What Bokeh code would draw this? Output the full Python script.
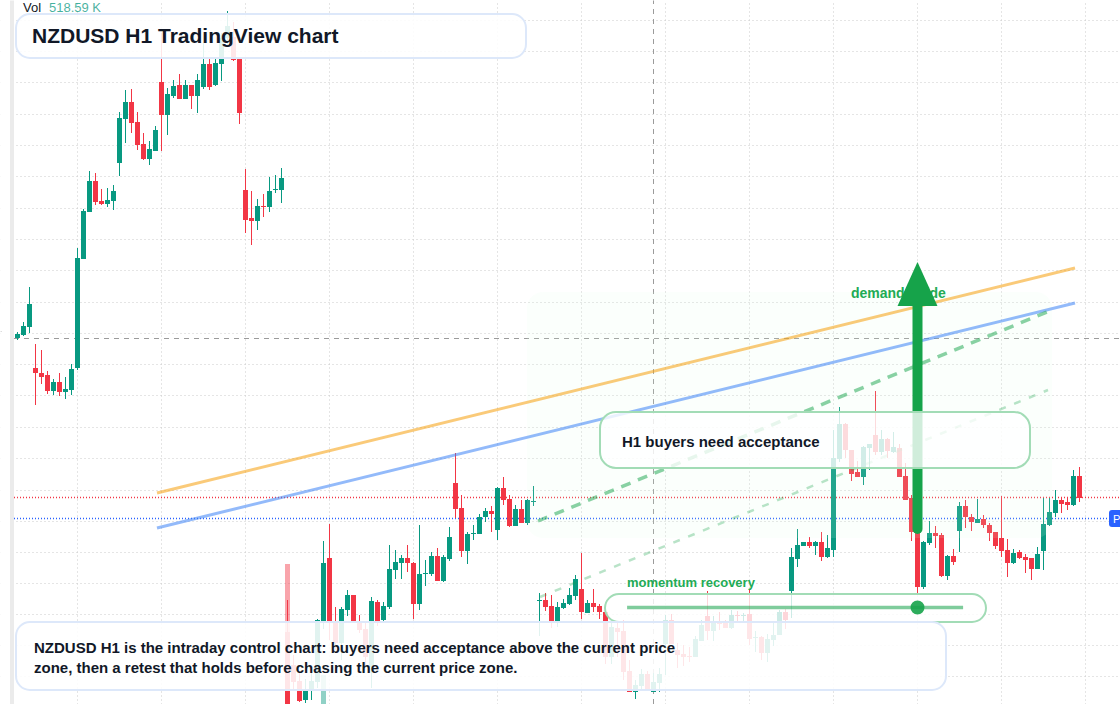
from bokeh.embed import file_html
from bokeh.models import BoxAnnotation, ColumnDataSource, FixedTicker, Grid, Label, Range1d
from bokeh.plotting import figure
from bokeh.resources import INLINE

# Candles, values in points above the base of the visible price window
highs = [372,382,417,360,354,333,325,331,327,340,456,495,533,531,515,516,519,592,614,615,592,571,563,578,671,616,624,630,624,619,630,661,646,647,671,693,682,646,535,513,505,510,527,529,536,
 104,49,32,25,32,85,163,180,97,97,114,109,89,82,107,104,102,159,154,149,159,142,179,144,152,156,149,177,251,209,172,179,190,196,198,217,227,209,199,204,205,218,
 111,111,109,102,105,116,129,151,104,115,100,92,83,83,84,44,24,35,33,31,36,89,90,61,59,57,68,84,113,88,92,84,94,93,91,114,73,68,70,81,94,95,
 156,175,162,167,163,172,169,274,297,281,254,243,258,260,313,274,266,272,260,241,209,207,163,183,178,171,149,155,202,204,190,205,189,181,172,208,165,155,154,150,146,157,206,206,214,207,206,234,237]
lows = [364,368,371,299,320,310,309,308,305,309,334,445,492,499,499,497,494,528,561,571,554,544,539,553,553,569,606,605,605,595,591,615,614,618,623,659,643,580,471,459,474,487,492,511,501,
 -26,14,2,1,4,16,75,64,54,44,88,82,71,38,16,78,82,95,125,125,132,85,94,118,128,123,122,143,186,147,140,164,170,182,172,164,199,177,178,181,179,198,
 68,93,76,77,95,99,104,85,91,92,85,40,40,47,24,12,5,14,13,12,12,29,60,36,38,42,47,63,64,63,74,76,75,82,82,59,52,44,42,58,69,75,
 86,137,158,156,149,143,146,147,242,246,223,227,219,234,249,249,246,251,227,204,163,109,115,159,156,127,124,139,152,176,173,181,176,163,155,147,127,140,145,131,124,135,134,178,187,191,194,198,202]
opens = [366,369,377,336,331,329,313,322,312,314,336,445,492,523,503,500,503,541,585,602,582,560,545,553,622,589,608,619,605,619,608,617,640,619,640,666,667,646,514,486,483,498,497,514,514,
 72,39,23,4,14,22,83,146,83,61,94,109,83,75,37,102,84,97,134,141,146,141,100,130,130,148,123,145,221,196,153,170,170,187,193,174,216,205,178,195,181,202,
 103,104,98,82,96,100,108,115,91,101,98,92,47,76,73,33,12,18,30,12,21,60,84,54,50,48,47,63,88,73,82,81,76,89,88,90,66,67,51,64,69,92,
 113,145,158,162,158,162,147,154,245,280,254,232,227,256,269,252,265,252,256,228,206,172,117,161,171,169,128,148,173,198,187,181,185,179,172,166,154,141,152,147,146,135,153,179,191,204,202,199,228]
closes = [370,378,400,331,327,313,322,312,315,335,446,493,523,502,500,504,513,586,602,581,559,545,555,574,589,610,618,605,619,608,624,640,617,641,666,678,644,591,484,483,498,497,513,515,526,
 -16,22,3,14,23,84,141,83,61,95,109,82,74,47,103,83,98,135,142,146,141,100,130,131,148,123,147,167,195,153,170,171,187,193,190,216,204,178,195,181,204,203,
 104,97,82,97,101,109,125,92,101,97,92,47,77,72,32,12,19,30,13,22,30,84,60,49,47,47,65,79,73,83,80,76,89,88,89,65,67,51,65,69,92,84,
 147,159,162,158,162,147,156,246,280,254,230,227,257,260,252,265,253,257,227,204,172,117,162,171,168,128,148,142,198,187,182,185,179,171,158,153,141,151,146,144,135,150,180,192,204,200,199,228,206]

volume_index = [45, 51]
volume_top = [140, 29]

price_levels = [683.5,652.5,621.5,589.5,558.5,527.5,495.5,464.5,433.5,401.5,370.5,339.5,308.5,276.5,245.5,213.5,182.5,151.5,120.5,89.5,58.5,27.5]
time_ticks = [10,24,38,52,66,80,94,108,122,136,150,164,178]

last_price_level = 206.5
prev_price_level = 185.5
cross_level = 365.5
cross_index = 106

resistance_x = [23.25, 176.25]
resistance_y = [211, 436]
support_x = [23.25, 176.25]
support_y = [176, 401]
path_a_x = [86.75, 171.58]
path_a_y = [183, 392]
path_b_x = [87.08, 171.75]
path_b_y = [107, 314]
momentum_x = [101.6, 157.6]
momentum_y = [96.5, 96.5]
momentum_dot_x = [150]
momentum_dot_y = [96.5]
arrow_x = [150, 150]
arrow_y = [175, 398]
arrow_head_x = [146.67, 150, 153.33]
arrow_head_y = [398, 442, 398]

title_text = "NZDUSD H1 TradingView chart"
body_lines = ["NZDUSD H1 is the intraday control chart: buyers need acceptance above the current price",
              "zone, then a retest that holds before chasing the current price zone."]
card_text = "H1 buyers need acceptance"
momentum_text = "momentum recovery"
demand_text = "demand guide"
vol_name = "Vol"
vol_value = "518.59 K"
price_tag = "P"

GREEN, RED = "#089981", "#f23645"
FONT = "Liberation Sans"
H = 704

p = figure(width=1120, height=H, output_backend="svg", toolbar_location=None,
           x_range=Range1d(-17 / 6, (1120 - 17) / 6), y_range=Range1d(-0.5, H - 0.5),
           min_border=0, outline_line_color=None, background_fill_color="white",
           x_axis_location=None, y_axis_location=None)
p.grid.visible = False

x0 = (13.5 - 17) / 6
x1 = (1120 - 17) / 6

p.add_layout(Grid(dimension=0, ticker=FixedTicker(ticks=time_ticks), grid_line_color="#cbcbcb",
                  grid_line_dash="1 3", grid_line_width=1))
p.add_layout(Grid(dimension=1, ticker=FixedTicker(ticks=price_levels), grid_line_color="#cbcbcb",
                  grid_line_dash="1 3", grid_line_width=1, bounds=(x0, x1)))


def box(left, right, top, bottom, fill, alpha, line=None, lw=0, radius=0, level="annotation"):
    b = BoxAnnotation(left=left - 0.5, right=right - 0.5, top=H - top + 0.5, bottom=H - bottom + 0.5,
                      left_units="screen", right_units="screen", top_units="screen", bottom_units="screen",
                      fill_color=fill, fill_alpha=alpha, line_color=line, line_width=lw,
                      line_alpha=1 if line else 0, border_radius=radius, level=level, editable=False)
    p.add_layout(b)
    return b


def label(x, y, text, size, color, bold=True, level="annotation", alpha=1.0):
    p.add_layout(Label(x=x - 0.5, y=H - y + 1, x_units="screen", y_units="screen", text=text, text_font=FONT,
                       text_font_size=f"{size}px", text_font_style="bold" if bold else "normal",
                       text_color=color, text_alpha=alpha, text_baseline="middle", text_align="left", level=level))


# left rail
box(0, 10, 0, H, "white", 1, level="underlay")
box(10, 14, 0, H, "#ebebeb", 1, level="underlay")
box(0, 2, 331, 332, "#dddddd", 1, level="underlay")

# levels and crosshair
p.line([x0, x1], [last_price_level] * 2, line_color=RED, line_width=1.5, line_dash="1 2")
p.line([x0, x1], [prev_price_level] * 2, line_color="#2962ff", line_width=1.5, line_dash="1 2")
p.line([x0, x1], [cross_level] * 2, line_color="#9b9b9b", line_width=1, line_dash="5 5")
p.line([cross_index] * 2, [0, H], line_color="#9b9b9b", line_width=1, line_dash="5 5")

# volume bars
vol_cols = [RED if closes[i] < opens[i] else GREEN for i in volume_index]
p.vbar(x=volume_index, width=5 / 6, bottom=-10, top=volume_top, fill_color=vol_cols, fill_alpha=0.45, line_color=None)

# candles
idx = list(range(len(highs)))
cols = [GREEN if c >= o else RED for o, c in zip(opens, closes)]
src = ColumnDataSource(dict(x=idx, h=highs, l=lows,
                            t=[max(o, c) for o, c in zip(opens, closes)],
                            b=[min(o, c) for o, c in zip(opens, closes)], c=cols))
p.segment(x0="x", x1="x", y0="l", y1="h", line_color="c", line_width=1, source=src)
p.vbar(x="x", width=5 / 6, top="t", bottom="b", fill_color="c", line_color=None, source=src)

# zone tints the candles only
box(527, 1052, 292, 538, "#dcfce7", 0.12, radius=16, level="glyph")

label(851, 293, demand_text, 14, "#22ab55", level="glyph")

# trend lines and arrow: above the zone, below the cards
ANN = "annotation"
p.line(resistance_x, resistance_y, line_color="#f59e0b", line_alpha=0.55, line_width=3, level=ANN)
p.line(support_x, support_y, line_color="#3b82f6", line_alpha=0.55, line_width=3, level=ANN)
p.line(path_b_x, path_b_y, line_color="#16a34a", line_alpha=0.3, line_width=2.5, line_dash="7 9", level=ANN)
p.line(path_a_x, path_a_y, line_color="#16a34a", line_alpha=0.5, line_width=3.5, line_dash="10 8", level=ANN)
p.line(arrow_x, arrow_y, line_color="#16a34a", line_width=10, line_cap="round", level=ANN)
p.patch(arrow_head_x, arrow_head_y, fill_color="#16a34a", line_color=None, level=ANN)

# cards
box(605, 986, 594, 622, "white", 0.8, "#a2dcb6", 2, 14)
box(600, 1030, 412, 468, "white", 0.8, "#a2dcb6", 2, 16)
box(16, 526, 14, 58, "white", 0.88, "#dde8fa", 2, 14)
box(16, 946, 622, 690, "white", 0.88, "#dde8fa", 2, 14)

# momentum track and dot sit above their pill
p.line(momentum_x, momentum_y, line_color="#16a34a", line_alpha=0.55, line_width=3.5, level="overlay")
p.scatter(momentum_dot_x, momentum_dot_y, size=14, fill_color="#16a34a", fill_alpha=0.9, line_color=None, level="overlay")

label(32, 36, title_text, 21, "#111827")
label(34, 648, body_lines[0], 15, "#111827")
label(34, 668, body_lines[1], 15, "#111827")
label(622, 442, card_text, 15, "#111827")
label(627, 583, momentum_text, 13, "#22ab55")
label(23, 8, vol_name, 13, "#131722", bold=False)
label(49, 8, vol_value, 13, GREEN, bold=False, alpha=0.75)

box(1109, 1130, 510, 527, "#2962ff", 1, radius=3)
label(1113, 519, price_tag, 11, "white", bold=False)

open("out.html", "w").write(file_html(p, INLINE))
